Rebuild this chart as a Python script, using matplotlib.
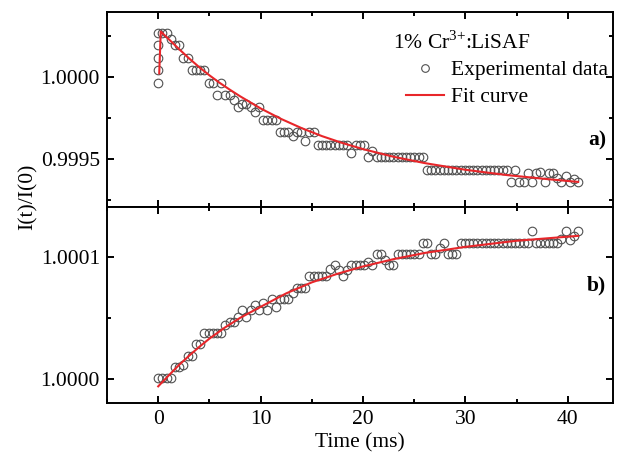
import matplotlib
matplotlib.use("Agg")
import matplotlib.pyplot as plt
from matplotlib.lines import Line2D
from matplotlib.ticker import MultipleLocator, FormatStrFormatter

plt.rcParams['font.family'] = ['Liberation Serif', 'DejaVu Serif']
plt.rcParams['mathtext.fontset'] = 'custom'
plt.rcParams['mathtext.rm'] = 'Liberation Serif'

# sampling times (ms), shared by both panels
time_ms = [0.0, 0.41, 0.82, 1.23, 1.64, 2.05, 2.46, 2.87, 3.28, 3.69,
           4.1, 4.51, 4.92, 5.33, 5.74, 6.15, 6.56, 6.97, 7.38, 7.79,
           8.2, 8.61, 9.02, 9.43, 9.84, 10.25, 10.66, 11.07, 11.48, 11.89,
           12.3, 12.71, 13.12, 13.53, 13.94, 14.35, 14.76, 15.17, 15.58, 15.99,
           16.4, 16.81, 17.22, 17.63, 18.04, 18.45, 18.86, 19.27, 19.68, 20.09,
           20.5, 20.91, 21.32, 21.73, 22.14, 22.55, 22.96, 23.37, 23.78, 24.19,
           24.6, 25.01, 25.42, 25.83, 26.24, 26.65, 27.06, 27.47, 27.88, 28.29,
           28.7, 29.11, 29.52, 29.93, 30.34, 30.75, 31.16, 31.57, 31.98, 32.39,
           32.8, 33.21, 33.62, 34.03, 34.44, 34.85, 35.26, 35.67, 36.08, 36.49,
           36.9, 37.31, 37.72, 38.13, 38.54, 38.95, 39.36, 39.77, 40.18, 40.59,
           41.0]

# panel a) experimental points
data_a = [1.000266, 1.000266, 1.000266, 1.000228, 1.000190, 1.000190, 1.000115, 1.000115, 1.000039, 1.000039,
          1.000039, 1.000039, 0.999963, 0.999963, 0.999888, 0.999963, 0.999888, 0.999888, 0.999857, 0.999812,
          0.999835, 0.999835, 0.999812, 0.999782, 0.999812, 0.999736, 0.999736, 0.999736, 0.999736, 0.999660,
          0.999660, 0.999660, 0.999638, 0.999660, 0.999660, 0.999607, 0.999660, 0.999660, 0.999585, 0.999585,
          0.999585, 0.999585, 0.999585, 0.999585, 0.999585, 0.999585, 0.999532, 0.999585, 0.999585, 0.999585,
          0.999509, 0.999547, 0.999509, 0.999509, 0.999509, 0.999509, 0.999509, 0.999509, 0.999509, 0.999509,
          0.999509, 0.999509, 0.999509, 0.999509, 0.999433, 0.999433, 0.999433, 0.999433, 0.999433, 0.999433,
          0.999433, 0.999433, 0.999433, 0.999433, 0.999433, 0.999433, 0.999433, 0.999433, 0.999433, 0.999433,
          0.999433, 0.999433, 0.999433, 0.999433, 0.999358, 0.999433, 0.999358, 0.999358, 0.999411, 0.999358,
          0.999411, 0.999418, 0.999358, 0.999411, 0.999411, 0.999380, 0.999358, 0.999396, 0.999358, 0.999373,
          0.999358]
# extra points recorded at t = 0 during the rise
stack_t = [0.0, 0.0, 0.0, 0.0]
stack_a = [0.999962, 1.000039, 1.000116, 1.000191]

# panel a) fit curve
fit_a_t = [0.1, 0.25, 1, 2, 3, 4, 5, 6, 7, 8, 10, 12, 14, 16, 18, 20, 23, 26, 30, 34, 38, 41]
fit_a = [1.000020, 1.000275, 1.000230, 1.000170, 1.000112, 1.000058, 1.000008, 0.999962, 0.999920,
         0.999880, 0.999806, 0.999742, 0.999686, 0.999637, 0.999595, 0.999558, 0.999511, 0.999473,
         0.999432, 0.999400, 0.999375, 0.999358]

# panel b) experimental points
data_b = [1.0000005, 1.0000005, 1.0000005, 1.0000005, 1.0000098, 1.0000098, 1.0000116, 1.0000190, 1.0000190, 1.0000283,
          1.0000283, 1.0000375, 1.0000375, 1.0000375, 1.0000375, 1.0000375, 1.0000440, 1.0000468, 1.0000468, 1.0000505,
          1.0000560, 1.0000505, 1.0000560, 1.0000606, 1.0000560, 1.0000625, 1.0000560, 1.0000653, 1.0000588, 1.0000653,
          1.0000653, 1.0000653, 1.0000699, 1.0000745, 1.0000745, 1.0000745, 1.0000838, 1.0000838, 1.0000838, 1.0000838,
          1.0000838, 1.0000902, 1.0000930, 1.0000893, 1.0000838, 1.0000893, 1.0000930, 1.0000930, 1.0000930, 1.0000930,
          1.0000958, 1.0000930, 1.0001023, 1.0001023, 1.0000976, 1.0000930, 1.0000930, 1.0001023, 1.0001023, 1.0001023,
          1.0001023, 1.0001023, 1.0001023, 1.0001115, 1.0001115, 1.0001023, 1.0001023, 1.0001069, 1.0001115, 1.0001023,
          1.0001023, 1.0001023, 1.0001115, 1.0001115, 1.0001115, 1.0001115, 1.0001115, 1.0001115, 1.0001115, 1.0001115,
          1.0001115, 1.0001115, 1.0001115, 1.0001115, 1.0001115, 1.0001115, 1.0001115, 1.0001115, 1.0001115, 1.0001208,
          1.0001115, 1.0001115, 1.0001115, 1.0001115, 1.0001115, 1.0001115, 1.0001143, 1.0001208, 1.0001134, 1.0001171,
          1.0001208]

# panel b) fit curve
fit_b_t = [0, 1, 2, 3, 4, 5, 6.5, 8, 10, 12.5, 15, 17.5, 20, 23, 26, 30, 35, 41]
fit_b = [0.999994, 1.0000027, 1.0000112, 1.0000189, 1.0000262, 1.000033, 1.000042, 1.000050, 1.000059,
         1.000070, 1.000079, 1.000086, 1.000092, 1.000098, 1.000103, 1.000108, 1.000113, 1.000117]

RED = '#e8262a'
GREY = '#505050'
FS = 15.5

fig = plt.figure(figsize=(6.17, 4.58), dpi=100)
ax1 = fig.add_axes([0.1734, 0.548, 0.8201, 0.4258])
ax2 = fig.add_axes([0.1734, 0.1201, 0.8201, 0.428])

mk = dict(ls='none', marker='o', ms=6.2, mfc='none', mec=GREY, mew=0.8)
ax1.plot(time_ms, data_a, **mk)
ax1.plot(stack_t, stack_a, **mk)
ax1.plot(fit_a_t, fit_a, color=RED, lw=1.5)
ax2.plot(time_ms, data_b, **mk)
ax2.plot(fit_b_t, fit_b, color=RED, lw=1.5)

ax1.set_ylim(0.999205, 1.000394)
ax2.set_ylim(0.9999804, 1.0001406)
ax1.yaxis.set_major_locator(MultipleLocator(0.0005))
ax1.yaxis.set_minor_locator(MultipleLocator(0.00025))
ax2.yaxis.set_major_locator(MultipleLocator(0.0001))
ax2.yaxis.set_minor_locator(MultipleLocator(0.00005))

for ax in (ax1, ax2):
    ax.set_xlim(-5, 44.4)
    ax.xaxis.set_major_locator(MultipleLocator(10))
    ax.xaxis.set_minor_locator(MultipleLocator(5))
    ax.yaxis.set_major_formatter(FormatStrFormatter('%.4f'))
    ax.tick_params(which='both', direction='in', top=True, right=True, width=1.4, labelsize=FS, pad=5)
    ax.tick_params(which='major', length=5)
    ax.tick_params(which='minor', length=3)
    for s in ax.spines.values():
        s.set_linewidth(1.4)
ax1.tick_params(labelbottom=False)

ax2.set_xlabel('Time (ms)', fontsize=FS, labelpad=3)
fig.text(28 / 617, 1 - 197 / 458, 'I(t)/I(0)', rotation=90, ha='center', va='center', fontsize=FS)

fig.text(606 / 617, 1 - 140 / 458, 'a)', ha='right', va='center', fontsize=FS, fontweight='bold')
fig.text(606 / 617, 1 - 285 / 458, 'b)', ha='right', va='center', fontsize=FS, fontweight='bold')

fig.text(393 / 617, 1 - 42 / 458, r'1% Cr$^{3{+}}$:LiSAF', ha='left', va='center', fontsize=FS)
handles = [Line2D([], [], ls='none', marker='o', ms=5.5, mfc='none', mec=GREY, mew=0.8),
           Line2D([], [], color=RED, lw=1.5)]
ax1.legend(handles, ['Experimental data', 'Fit curve'], loc='upper left',
           bbox_to_anchor=(406 / 617, 1 - 60 / 458), bbox_transform=fig.transFigure,
           frameon=False, borderpad=0, borderaxespad=0, handlelength=1.75,
           handletextpad=0.32, labelspacing=0.34, fontsize=FS)

fig.savefig('out.png', dpi=100)
